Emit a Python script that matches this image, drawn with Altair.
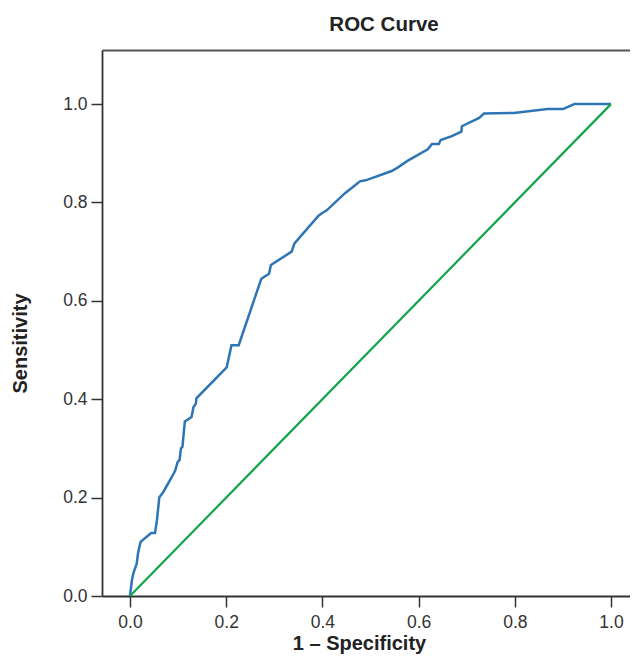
import altair as alt
import pandas as pd

# ROC curve points (1 - specificity, sensitivity)
fpr = [0.000, 0.004, 0.007, 0.014, 0.017, 0.022, 0.044, 0.052, 0.056, 0.061,
       0.069, 0.087, 0.094, 0.099, 0.103, 0.106, 0.109, 0.114, 0.128, 0.132,
       0.137, 0.138, 0.201, 0.211, 0.226, 0.273, 0.289, 0.293, 0.336, 0.342,
       0.392, 0.399, 0.409, 0.447, 0.468, 0.478, 0.490, 0.544, 0.558, 0.576,
       0.619, 0.628, 0.642, 0.646, 0.669, 0.689, 0.690, 0.726, 0.736, 0.798,
       0.868, 0.900, 0.924, 1.000]
tpr = [0.000, 0.032, 0.046, 0.066, 0.089, 0.110, 0.128, 0.128, 0.154, 0.201,
       0.211, 0.242, 0.255, 0.272, 0.276, 0.300, 0.303, 0.355, 0.364, 0.384,
       0.391, 0.402, 0.465, 0.510, 0.510, 0.645, 0.655, 0.673, 0.700, 0.717,
       0.773, 0.778, 0.784, 0.819, 0.835, 0.843, 0.845, 0.864, 0.872, 0.884,
       0.908, 0.919, 0.919, 0.927, 0.935, 0.944, 0.955, 0.972, 0.981, 0.982,
       0.990, 0.990, 1.000, 1.000]

diag_x = [0.0, 1.0]
diag_y = [0.0, 1.0]

tick_values = [0.0, 0.2, 0.4, 0.6, 0.8, 1.0]

roc = pd.DataFrame({"fpr": fpr, "tpr": tpr, "order": list(range(len(fpr)))})
diag = pd.DataFrame({"fpr": diag_x, "tpr": diag_y, "order": [0, 1]})

FONT = "Liberation Sans"
AXIS_COLOR = "#333333"

xscale = alt.Scale(domain=[-0.0582, 1.0395], nice=False, zero=False)
yscale = alt.Scale(domain=[0, 1.11], nice=False, zero=False)

x_bottom = alt.Axis(
    values=tick_values, format=".1f", title="1 – Specificity", grid=False,
    orient="bottom", tickSize=11, tickWidth=1.5, tickColor=AXIS_COLOR,
    domainColor=AXIS_COLOR, domainWidth=1.8, labelFont=FONT, labelFontSize=17.5,
    labelColor="#333333", labelPadding=6, titleFont=FONT, titleFontSize=20,
    titleFontWeight="bold", titleColor="#222222", titleX=257, titleY=53,
    titleBaseline="alphabetic", titleAlign="center",
)
x_top = alt.Axis(
    orient="top", title="", grid=False, ticks=False, labels=False,
    domainColor="#555555", domainWidth=1.8,
)
y_left = alt.Axis(
    values=tick_values, format=".1f", title="Sensitivity", grid=False,
    tickSize=11, tickWidth=1.5, tickColor=AXIS_COLOR, domainColor=AXIS_COLOR,
    domainWidth=1.8, labelFont=FONT, labelFontSize=17.5, labelColor="#333333",
    labelPadding=4, titleFont=FONT, titleFontSize=20, titleFontWeight="bold",
    titleColor="#222222", titleX=-76, titleY=293, titleBaseline="alphabetic",
    titleAlign="center", titleAngle=270,
)

roc_line = alt.Chart(roc).mark_line(color="#2e75b6", strokeWidth=2.5).encode(
    x=alt.X("fpr:Q", scale=xscale, axis=x_bottom),
    y=alt.Y("tpr:Q", scale=yscale, axis=y_left),
    order="order:Q",
)

diag_line = alt.Chart(diag).mark_line(color="#13a44b", strokeWidth=2.2).encode(
    x=alt.X("fpr:Q", scale=xscale, axis=x_top),
    y=alt.Y("tpr:Q", scale=yscale),
    order="order:Q",
)

chart = alt.layer(roc_line, diag_line).properties(
    width=528,
    height=546,
    title=alt.TitleParams(
        "ROC Curve", font=FONT, fontSize=20.5, fontWeight="bold", color="#222222",
        anchor="middle", offset=15, dx=18,
    ),
    autosize=alt.AutoSizeParams(type="none"),
    padding={"left": 94, "top": 42, "right": 0, "bottom": 61},
).configure_view(stroke=None)

chart.save("out.html", embed_options={"renderer": "svg", "actions": False})
